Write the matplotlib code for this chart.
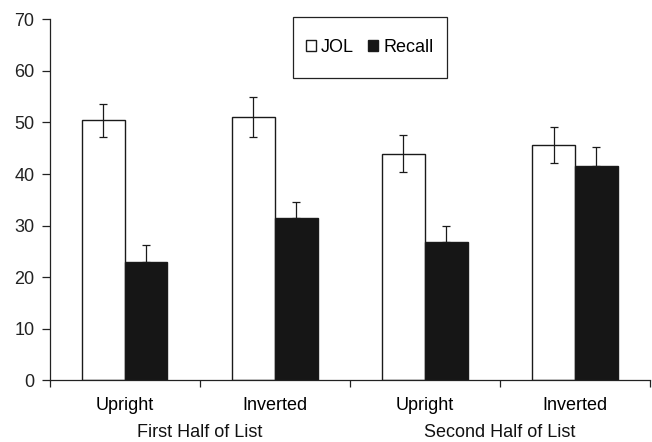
import matplotlib
matplotlib.use("Agg")
import matplotlib.pyplot as plt
from matplotlib.patches import Rectangle, Patch
from matplotlib.transforms import blended_transform_factory
import numpy as np

plt.rcParams['font.family'] = ['Liberation Sans', 'DejaVu Sans']

conditions = ["Upright", "Inverted", "Upright", "Inverted"]
halves = ["First Half of List", "Second Half of List"]
jol = [50.4, 51.0, 43.9, 45.6]
jol_err = [3.2, 3.9, 3.6, 3.5]
recall = [22.9, 31.4, 26.9, 41.5]
recall_err = [3.4, 3.1, 3.1, 3.8]

FS = 13
fig = plt.figure(figsize=(6.52, 4.42), dpi=100)
ax = fig.add_axes([0.076, 0.140, 0.921, 0.816])

x = np.arange(len(conditions)) + 0.5
w = 0.285
edge = "#1a1a1a"
ekw = dict(ecolor=edge, elinewidth=0.9, capsize=3, capthick=0.9)

ax.bar(x - w / 2, jol, w, color="white", edgecolor=edge, linewidth=1.0,
       yerr=jol_err, error_kw=ekw, zorder=2)
# recall error bars shown above the bar only
ax.bar(x + w / 2, recall, w, color="#161616", edgecolor=edge, linewidth=1.0,
       yerr=[np.zeros(len(recall)), recall_err], error_kw=ekw, zorder=2)

ax.set_xlim(0, 4)
ax.set_ylim(0, 70)
ax.set_yticks(np.arange(0, 71, 10))
ax.tick_params(axis='y', labelsize=FS, length=6, width=0.9, pad=5, colors="#222222")

ax.set_xticks(np.arange(0, 5))
ax.set_xticklabels([])
ax.tick_params(axis='x', which='major', length=5, width=0.9, direction='out', colors="#222222")
ax.set_xticks(x, minor=True)
ax.set_xticklabels(conditions, minor=True)
ax.tick_params(axis='x', which='minor', length=0, labelsize=FS, pad=12.5)

trans = blended_transform_factory(ax.transData, ax.transAxes)
for i, name in enumerate(halves):
    ax.text(2 * i + 1, -0.145, name, transform=trans, ha='center', va='center',
            fontsize=FS, color="#111111")

for s in ("top", "right"):
    ax.spines[s].set_visible(False)
for s in ("left", "bottom"):
    ax.spines[s].set_color("#222222")
    ax.spines[s].set_linewidth(0.9)

# legend frame drawn as a separate box
ax.add_patch(Rectangle((0.405, 0.837), 0.2565, 0.169, transform=ax.transAxes,
                       fill=False, edgecolor="#222222", linewidth=0.9, clip_on=False, zorder=3))
handles = [Patch(facecolor="white", edgecolor=edge, linewidth=1.0, label="JOL"),
           Patch(facecolor="#161616", edgecolor=edge, linewidth=1.0, label="Recall")]
ax.legend(handles=handles, loc='center', bbox_to_anchor=(0.533, 0.9215), ncol=2,
          frameon=False, fontsize=FS, handlelength=0.55, handleheight=0.55,
          handletextpad=0.28, columnspacing=0.78, borderpad=0)

fig.savefig("out.png", dpi=100)
